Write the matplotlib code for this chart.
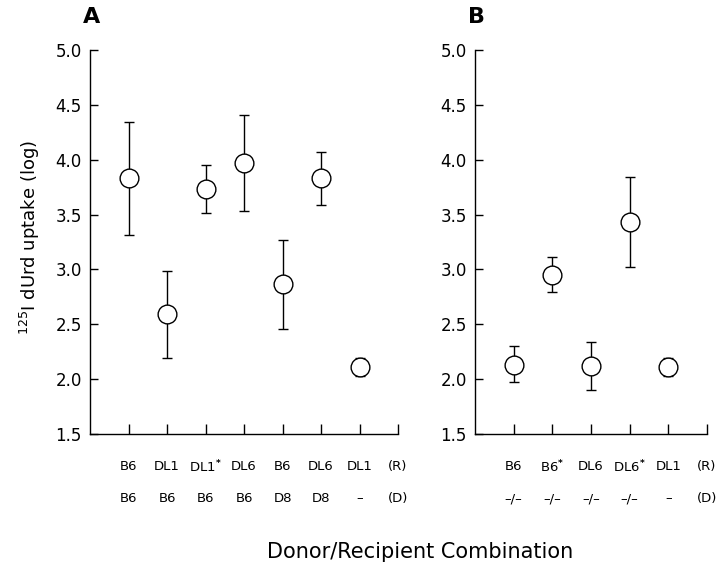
import matplotlib
matplotlib.use("Agg")
import matplotlib.pyplot as plt
import matplotlib.transforms as mtransforms

# panel A
a_recip = ["B6", "DL1", "DL1$^{\\mathbf{*}}$", "DL6", "B6", "DL6", "DL1"]
a_donor = ["B6", "B6", "B6", "B6", "D8", "D8", "\u2013"]
a_mean = [3.83, 2.59, 3.73, 3.97, 2.87, 3.83, 2.11]
a_low = [3.31, 2.19, 3.51, 3.53, 2.46, 3.59, 2.03]
a_high = [4.34, 2.99, 3.95, 4.41, 3.27, 4.07, 2.19]

# panel B
b_recip = ["B6", "B6$^{\\mathbf{*}}$", "DL6", "DL6$^{\\mathbf{*}}$", "DL1"]
b_donor = ["\u2013/\u2013", "\u2013/\u2013", "\u2013/\u2013", "\u2013/\u2013", "\u2013"]
b_mean = [2.13, 2.95, 2.12, 3.43, 2.11]
b_low = [1.97, 2.79, 1.90, 3.02, 2.03]
b_high = [2.30, 3.11, 2.34, 3.84, 2.19]

yticks = [1.5, 2.0, 2.5, 3.0, 3.5, 4.0, 4.5, 5.0]

fig = plt.figure(figsize=(7.2, 5.72), dpi=100)
axA = fig.add_axes([0.125, 0.2413, 0.4278, 0.6713])
axB = fig.add_axes([0.6597, 0.2413, 0.3222, 0.6713])


def panel(ax, recip, donor, mean, low, high, letter):
    n = len(mean)
    xs = list(range(1, n + 1))
    yerr = [[m - l for m, l in zip(mean, low)], [h - m for m, h in zip(mean, high)]]
    ax.errorbar(xs, mean, yerr=yerr, fmt="o", ms=13.5, mfc="white", mec="black",
                mew=1.0, ecolor="black", elinewidth=1.0, capsize=3.3, capthick=1.0,
                zorder=3)
    ax.set_xlim(0, n + 1)
    ax.set_ylim(1.5, 5.0)
    ax.set_xticks(range(1, n + 2))
    ax.set_xticklabels([""] * (n + 1))
    ax.set_yticks(yticks)
    ax.set_yticklabels(["%.1f" % v for v in yticks], fontsize=12)
    ax.tick_params(direction="in", length=6, width=1.0, pad=6)
    ax.tick_params(axis="x", length=7)
    for s in ["top", "right"]:
        ax.spines[s].set_visible(False)
    for s in ["left", "bottom"]:
        ax.spines[s].set_linewidth(1.0)
    trans = mtransforms.blended_transform_factory(ax.transData, ax.transAxes)
    for i in range(n):
        ax.text(xs[i], -0.086, recip[i], transform=trans, ha="center", va="center", fontsize=9.5)
        ax.text(xs[i], -0.169, donor[i], transform=trans, ha="center", va="center", fontsize=9.5)
    ax.text(n + 1, -0.086, "(R)", transform=trans, ha="center", va="center", fontsize=9.5)
    ax.text(n + 1, -0.169, "(D)", transform=trans, ha="center", va="center", fontsize=9.5)
    ax.text(-0.022 * 8 / (n + 1), 1.06, letter, transform=ax.transAxes, ha="left", va="bottom",
            fontsize=16, fontweight="bold")


panel(axA, a_recip, a_donor, a_mean, a_low, a_high, "A")
panel(axB, b_recip, b_donor, b_mean, b_low, b_high, "B")

fig.text(0.583, 0.035, "Donor/Recipient Combination", ha="center", va="center", fontsize=15)
fig.text(0.042, 0.585, "$^{125}$I dUrd uptake (log)", ha="center", va="center",
         rotation=90, fontsize=13)

fig.savefig("out.png", dpi=100)
